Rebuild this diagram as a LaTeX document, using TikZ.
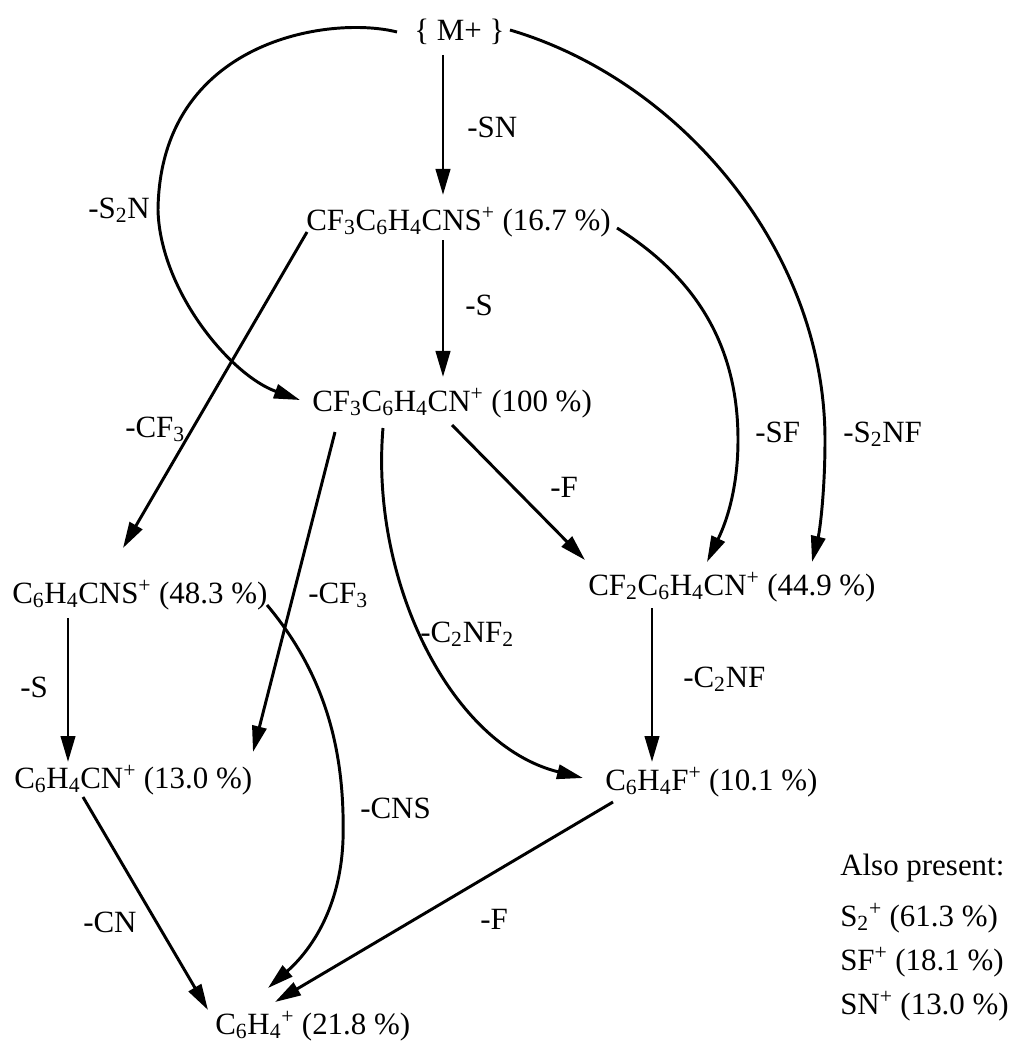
\documentclass[tikz,border=0pt]{standalone}
\usepackage{fontspec}
\setmainfont{Liberation Serif}
\usetikzlibrary{arrows.meta,calc}
\newcommand{\chsub}[1]{\textsubscript{#1}}
\newcommand{\chsup}[1]{\textsuperscript{#1}}
\begin{document}
\begin{tikzpicture}[x=0.025cm,y=-0.025cm,
  every node/.style={inner sep=0pt,font=\fontsize{22}{26}\selectfont},
  ion/.style={anchor=base west},
  lbl/.style={anchor=base west},
  arr/.style={line width=2.1pt,-{Triangle[length=0.65cm,width=0.36cm]}}]
\useasboundingbox (0,0) rectangle (1016,1045);
% ions
\node[ion] (mp)    at (414,41)  {\{ M+ \}};
\node[ion] (cns16) at (306,230) {CF\chsub{3}C\chsub{6}H\chsub{4}CNS\chsup{+} (16.7 \%)};
\node[ion] (cn100) at (312,411) {CF\chsub{3}C\chsub{6}H\chsub{4}CN\chsup{+} (100 \%)};
\node[ion] (cns48) at (12,603)  {C\chsub{6}H\chsub{4}CNS\chsup{+} (48.3 \%)};
\node[ion] (cf2)   at (588,595) {CF\chsub{2}C\chsub{6}H\chsub{4}CN\chsup{+} (44.9 \%)};
\node[ion] (cn13)  at (14,788)  {C\chsub{6}H\chsub{4}CN\chsup{+} (13.0 \%)};
\node[ion] (c6h4f) at (605,790) {C\chsub{6}H\chsub{4}F\chsup{+} (10.1 \%)};
\node[ion] (c6h4)  at (215,1034) {C\chsub{6}H\chsub{4}\chsup{+} (21.8 \%)};
% also present
\node[ion] (also)  at (840,875)  {Also present:};
\node[ion] (s2)    at (840,926)  {S\chsub{2}\chsup{+} (61.3 \%)};
\node[ion] (sf)    at (840,970)  {SF\chsup{+} (18.1 \%)};
\node[ion] (sn)    at (840,1014) {SN\chsup{+} (13.0 \%)};
% connectors
\draw[arr] ($(mp.base west)+(29,14)$) -- ($(cns16.base west)+(137,-35)$);
\draw[arr] ($(cns16.base west)+(137,10)$) -- ($(cn100.base west)+(131,-34)$);
\draw[arr] ($(mp.base west)+(-17,-9)$) .. controls (330,15) and (160,40) .. (158,210)
  .. controls (160,290) and (230,375) .. ($(cn100.base west)+(-12,-11)$);
\draw[arr] ($(mp.base west)+(96,-11)$) .. controls (680,80) and (825,250) .. (825,440)
  .. controls (825,490) and (820,530) .. ($(cf2.base west)+(224,-33)$);
\draw[arr] ($(cns16.base west)+(311,-2)$) .. controls (700,280) and (738,350) .. (738,440)
  .. controls (738,500) and (720,535) .. ($(cf2.base west)+(119,-33)$);
\draw[arr] ($(cns16.base west)+(1,2)$) -- ($(cns48.base west)+(111,-55)$);
\draw[arr] ($(cn100.base west)+(23,21)$) -- ($(cn13.base west)+(239,-36)$);
\draw[arr] ($(cn100.base west)+(71,17)$) .. controls (370,580) and (450,745) .. ($(c6h4f.base west)+(-22,-12)$);
\draw[arr] ($(cn100.base west)+(140,14)$) -- ($(cf2.base west)+(-3,-35)$);
\draw[arr] ($(cns48.base west)+(255,2)$) .. controls (330,680) and (345,760) .. (343,840)
  .. controls (340,920) and (300,960) .. ($(c6h4.base west)+(53,-46)$);
\draw[arr] ($(cns48.base west)+(56,15)$) -- ($(cn13.base west)+(54,-26)$);
\draw[arr] ($(cf2.base west)+(64,13)$) -- ($(c6h4f.base west)+(47,-28)$);
\draw[arr] ($(cn13.base west)+(69,9)$) -- ($(c6h4.base west)+(-7,-24)$);
\draw[arr] ($(c6h4f.base west)+(8,12)$) -- ($(c6h4.base west)+(60,-32)$);
% labels
\node[lbl] (l1)  at (467,138) {-SN};
\node[lbl] (l2)  at (465,315) {-S};
\node[lbl] (l3)  at (88,218)  {-S\chsub{2}N};
\node[lbl] (l4)  at (843,442) {-S\chsub{2}NF};
\node[lbl] (l5)  at (755,442) {-SF};
\node[lbl] (l6)  at (125,437) {-CF\chsub{3}};
\node[lbl] (l7)  at (308,603) {-CF\chsub{3}};
\node[lbl] (l8)  at (420,642) {-C\chsub{2}NF\chsub{2}};
\node[lbl] (l9)  at (550,497) {-F};
\node[lbl] (l10) at (360,818) {-CNS};
\node[lbl] (l11) at (20,697)  {-S};
\node[lbl] (l12) at (683,687) {-C\chsub{2}NF};
\node[lbl] (l13) at (83,932)  {-CN};
\node[lbl] (l14) at (480,929) {-F};
\end{tikzpicture}
\end{document}
